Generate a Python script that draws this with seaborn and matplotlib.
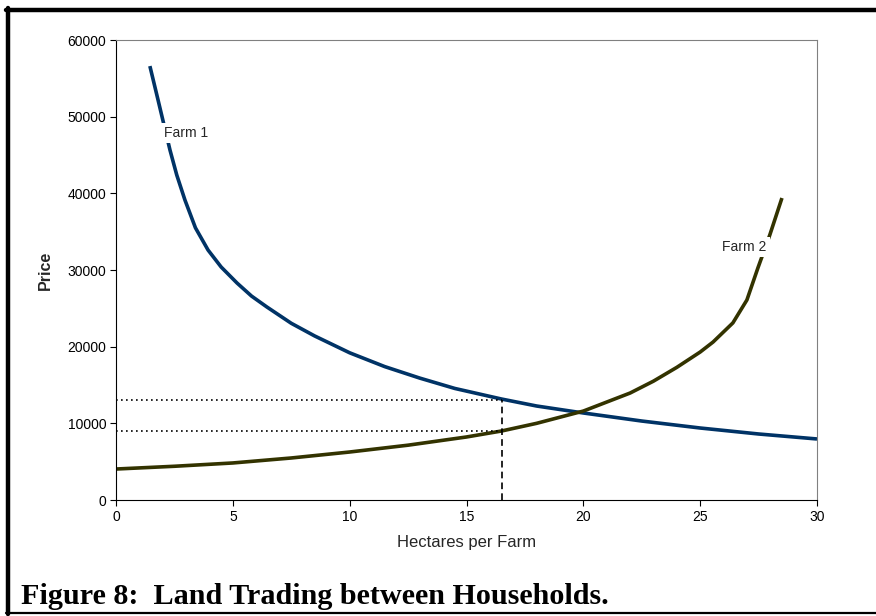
import numpy as np
import pandas as pd
import matplotlib
matplotlib.use("Agg")
import matplotlib.pyplot as plt
import seaborn as sns
from matplotlib.lines import Line2D

# Farm 1 curve
farm1_x = [1.45, 1.8, 2.31, 2.6, 2.95, 3.4, 3.94, 4.5, 5.18, 5.8, 6.46, 7.5, 8.5,
           10.0, 11.5, 13.0, 14.5, 16.5, 18.0, 20.0, 22.5, 25.0, 27.5, 30.0]
farm1_y = [56600, 52170, 45650, 42390, 39130, 35500, 32600, 30390, 28300, 26600, 25170, 23050, 21400,
           19200, 17400, 15900, 14550, 13170, 12260, 11350, 10300, 9390, 8610, 7960]

# Farm 2 curve
farm2_x = [0, 2.5, 5, 7.5, 10, 12.5, 15, 16.5, 18, 20, 22, 23, 24, 25, 25.55,
           26.4, 27.0, 27.47, 27.98, 28.5]
farm2_y = [4040, 4400, 4830, 5480, 6260, 7150, 8220, 9000, 10000, 11600, 13950, 15500, 17300, 19300, 20600,
           23100, 26090, 30260, 34570, 39390]

# trade point
trade_x = 16.5
price_hi = 13000
price_lo = 9000

df = pd.concat([
    pd.DataFrame({"Hectares": farm1_x, "Price": farm1_y, "Farm": "Farm 1"}),
    pd.DataFrame({"Hectares": farm2_x, "Price": farm2_y, "Farm": "Farm 2"}),
])

sns.set_style("white")
plt.rcParams["font.family"] = ["Liberation Sans", "DejaVu Sans"]

fig = plt.figure(figsize=(8.76, 6.16), dpi=100)
ax = fig.add_axes([116 / 876, 1 - 500 / 616, 701 / 876, 460 / 616])

sns.lineplot(data=df, x="Hectares", y="Price", hue="Farm",
             palette={"Farm 1": "#003366", "Farm 2": "#333300"},
             linewidth=2.6, legend=False, ax=ax, estimator=None, sort=False)
for ln in ax.lines:
    ln.set_solid_joinstyle("round")
    ln.set_solid_capstyle("butt")

# guide lines
ax.plot([0, trade_x], [price_hi, price_hi], color="black", linestyle=(0, (1, 2)), linewidth=1.2)
ax.plot([0, trade_x], [price_lo, price_lo], color="black", linestyle=(0, (1, 2)), linewidth=1.2)
ax.plot([trade_x, trade_x], [0, price_hi], color="black", linestyle=(0, (4, 2.5)), linewidth=1.2)

ax.text(3.0, 47870, "Farm 1", fontsize=10, ha="center", va="center",
        bbox=dict(facecolor="white", edgecolor="none", pad=2))
ax.text(26.9, 33000, "Farm 2", fontsize=10, ha="center", va="center",
        bbox=dict(facecolor="white", edgecolor="none", pad=2))

ax.set_xlim(0, 30)
ax.set_ylim(0, 60000)
ax.set_xticks(range(0, 31, 5))
ax.set_yticks(range(0, 60001, 10000))
ax.tick_params(axis="both", direction="out", length=4, width=0.8, labelsize=10, pad=3,
               left=True, bottom=True, colors="black")
ax.set_xlabel("Hectares per Farm", fontsize=12, labelpad=8)
ax.set_ylabel("")
fig.text(45 / 876, 1 - 270 / 616, "Price", rotation=90, fontsize=11.5,
         fontweight="bold", ha="center", va="center")

for s in ["top", "right"]:
    ax.spines[s].set_color("#808080")
    ax.spines[s].set_linewidth(0.8)
for s in ["left", "bottom"]:
    ax.spines[s].set_color("black")
    ax.spines[s].set_linewidth(0.8)

# caption
fig.text(21 / 876, 1 - 596 / 616, "Figure 8:  Land Trading between Households.",
         fontsize=21.7, fontweight="bold", family="Liberation Serif", color="black",
         ha="left", va="center")

# page frame
fig.add_artist(Line2D([8 / 876, 8 / 876], [1 - 8 / 616, 1 - 614 / 616],
                      transform=fig.transFigure, color="black", linewidth=3.2))
fig.add_artist(Line2D([6 / 876, 1], [1 - 10 / 616, 1 - 10 / 616],
                      transform=fig.transFigure, color="black", linewidth=3.2))
fig.add_artist(Line2D([6 / 876, 1], [1 - 613 / 616, 1 - 613 / 616],
                      transform=fig.transFigure, color="black", linewidth=1.6))

fig.savefig("out.png", dpi=100)
